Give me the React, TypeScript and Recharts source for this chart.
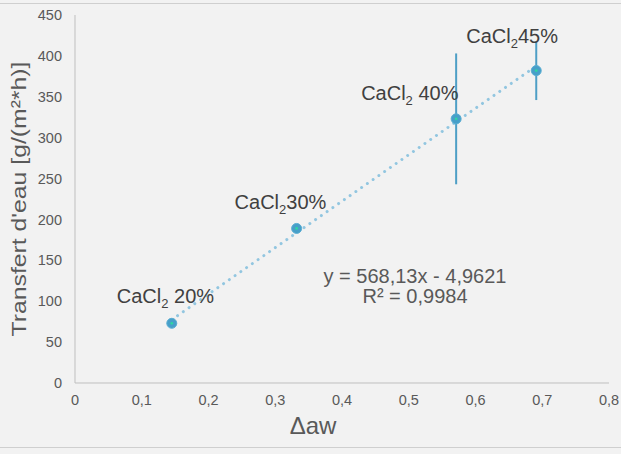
import React from 'react';
import {
  ScatterChart,
  Scatter,
  XAxis,
  YAxis,
  ErrorBar,
  ReferenceLine,
  Customized,
  Label,
} from 'recharts';

// ---- data ----
const xValues = [0.145, 0.332, 0.571, 0.691];
const yValues = [73, 189, 323, 382];
const yErrors = [0, 0, 80, 36];
const labelPrefix = 'CaCl';
const labelSub = '2';
const labelSuffixes = [' 20%', '30%', ' 40%', '45%'];

const xTicks = [0, 0.1, 0.2, 0.3, 0.4, 0.5, 0.6, 0.7, 0.8];
const xTickLabels = ['0', '0,1', '0,2', '0,3', '0,4', '0,5', '0,6', '0,7', '0,8'];
const yTicks = [0, 50, 100, 150, 200, 250, 300, 350, 400, 450];

const trendSlope = 568.13;
const trendIntercept = -4.9621;
const equationText = 'y = 568,13x - 4,9621';
const r2Text = 'R² = 0,9984';

const xAxisTitle = 'Δaw';
const yAxisTitle = "Transfert d'eau [g/(m²*h)]";

// label placement (style): offset of label start / baseline from the marker centre
const labelOffsets = [
  { dx: -55, dy: -20 },
  { dx: -62, dy: -19 },
  { dx: -95, dy: -19 },
  { dx: -70, dy: -27.5 },
];

const data = xValues.map((x, i) => ({
  x,
  y: yValues[i],
  err: yErrors[i],
  suffix: labelSuffixes[i],
  idx: i,
}));

const trendStart = { x: xValues[0], y: trendSlope * xValues[0] + trendIntercept };
const trendEnd = {
  x: xValues[xValues.length - 1],
  y: trendSlope * xValues[xValues.length - 1] + trendIntercept,
};

const FONT = '"Liberation Sans", Arial, sans-serif';

const PointShape = (props: any) => {
  const { cx, cy, payload } = props;
  if (cx == null || cy == null) return null;
  const off = labelOffsets[payload.idx] || { dx: 0, dy: -20 };
  return (
    <g>
      <circle cx={cx} cy={cy} r={5} fill="#479fc9" stroke="#5aaed3" strokeWidth={1} />
      <circle cx={cx} cy={cy} r={1.4} fill="#2fd6a2" />
      <text
        x={cx + off.dx}
        y={cy + off.dy}
        fontFamily={FONT}
        fontSize={20}
        fill="#404040"
      >
        {labelPrefix}
        <tspan fontSize={13} dy={5}>
          {labelSub}
        </tspan>
        <tspan fontSize={20} dy={-5}>
          {payload.suffix}
        </tspan>
      </text>
    </g>
  );
};

const Equation = () => (
  <g>
    <text x={415} y={283} textAnchor="middle" fontFamily={FONT} fontSize={20} fill="#595959">
      {equationText}
    </text>
    <text x={415} y={303} textAnchor="middle" fontFamily={FONT} fontSize={20} fill="#595959">
      {r2Text}
    </text>
  </g>
);

export default function App() {
  return (
    <div
      style={{
        position: 'fixed',
        left: 0,
        top: 0,
        width: 621,
        height: 454,
        background: '#f2f2f2',
        overflow: 'hidden',
      }}
    >
      <div
        style={{
          position: 'absolute',
          left: 0,
          top: 3,
          width: 621,
          height: 443,
          borderTop: '1px solid #cfcfcf',
          borderBottom: '1px solid #cfcfcf',
        }}
      />
      <div style={{ position: 'absolute', left: 0, top: 0 }}>
        <ScatterChart
          width={621}
          height={454}
          margin={{ top: 15, right: 12, bottom: 11, left: 0 }}
        >
          <XAxis
            type="number"
            dataKey="x"
            domain={[0, 0.8]}
            ticks={xTicks}
            interval={0}
            tickFormatter={(v: number) => {
              const i = xTicks.findIndex((t) => Math.abs(t - v) < 1e-9);
              return i >= 0 ? xTickLabels[i] : String(v);
            }}
            height={60}
            axisLine={{ stroke: '#bfbfbf', strokeWidth: 1 }}
            tickLine={false}
            tickSize={0}
            tickMargin={12}
            tick={{ fill: '#595959', fontSize: 14.5, fontFamily: FONT }}
          >
            <Label
              content={() => (
                <text
                  x={313}
                  y={434}
                  textAnchor="middle"
                  fontFamily={FONT}
                  fontSize={24}
                  fill="#595959"
                >
                  {xAxisTitle}
                </text>
              )}
            />
          </XAxis>
          <YAxis
            type="number"
            dataKey="y"
            domain={[0, 450]}
            ticks={yTicks}
            interval={0}
            width={75}
            axisLine={{ stroke: '#bfbfbf', strokeWidth: 1 }}
            tickLine={false}
            tickSize={0}
            tickMargin={13}
            tick={{ fill: '#595959', fontSize: 14.5, fontFamily: FONT }}
          >
            <Label
              content={() => (
                <text
                  x={26}
                  y={199}
                  transform="rotate(-90, 26, 199)"
                  textAnchor="middle"
                  fontFamily={FONT}
                  fontSize={21}
                  fill="#595959"
                  textLength={275}
                  lengthAdjust="spacingAndGlyphs"
                >
                  {yAxisTitle}
                </text>
              )}
            />
          </YAxis>
          <ReferenceLine
            segment={[trendStart, trendEnd]}
            ifOverflow="visible"
            stroke="#92c6e0"
            strokeWidth={3}
            strokeDasharray="0.01 7"
            strokeLinecap="round"
          />
          <Scatter
            data={data}
            isAnimationActive={false}
            fill="#479fc9"
            shape={PointShape}
          >
            <ErrorBar
              dataKey="err"
              direction="y"
              width={0}
              stroke="#4e9fc6"
              strokeWidth={2}
              isAnimationActive={false}
            />
          </Scatter>
          <Customized component={<Equation />} />
        </ScatterChart>
      </div>
    </div>
  );
}
